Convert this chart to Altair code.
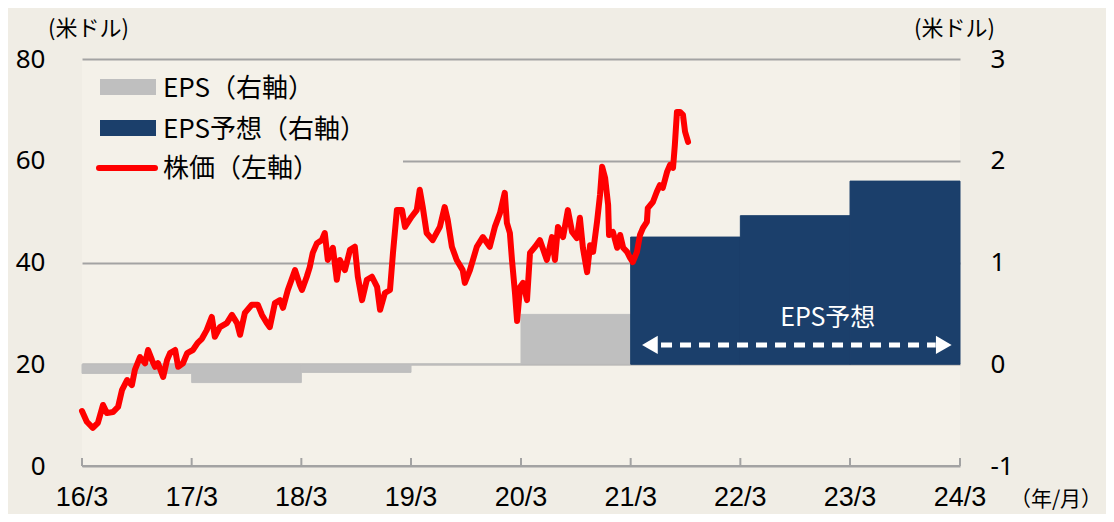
import altair as alt
import pandas as pd

# ---------------- data ----------------
price_dates = [
    "2016-03-31", "2016-04-16", "2016-05-06", "2016-05-23", "2016-06-09", "2016-06-22",
    "2016-07-12", "2016-07-29", "2016-08-11", "2016-08-28", "2016-09-13", "2016-09-23",
    "2016-10-10", "2016-10-27", "2016-11-06", "2016-11-19", "2016-11-29", "2016-12-09",
    "2016-12-26", "2017-01-08", "2017-01-18", "2017-02-04", "2017-02-14", "2017-03-02",
    "2017-03-16", "2017-04-04", "2017-04-20", "2017-05-04", "2017-05-20", "2017-06-06",
    "2017-06-16", "2017-07-03", "2017-07-26", "2017-08-12", "2017-08-29", "2017-09-08",
    "2017-09-24", "2017-10-17", "2017-11-06", "2017-11-20", "2017-12-06", "2017-12-16",
    "2018-01-02", "2018-01-19", "2018-01-29", "2018-02-14", "2018-03-10", "2018-03-26",
    "2018-04-02", "2018-04-18", "2018-04-28", "2018-05-08", "2018-05-22", "2018-06-07",
    "2018-06-17", "2018-06-27", "2018-07-14", "2018-07-27", "2018-08-06", "2018-08-23",
    "2018-09-09", "2018-09-25", "2018-10-05", "2018-10-19", "2018-11-04", "2018-11-21",
    "2018-12-08", "2018-12-18", "2019-01-03", "2019-01-20", "2019-01-30", "2019-02-12",
    "2019-03-01", "2019-03-11", "2019-04-02", "2019-04-19", "2019-04-29", "2019-05-09",
    "2019-05-22", "2019-06-11", "2019-07-05", "2019-07-21", "2019-07-31", "2019-08-14",
    "2019-08-30", "2019-09-19", "2019-09-26", "2019-10-13", "2019-11-05", "2019-11-25",
    "2019-12-18", "2020-01-04", "2020-01-21", "2020-02-06", "2020-02-13", "2020-02-23",
    "2020-03-01", "2020-03-11", "2020-03-18", "2020-03-28", "2020-04-07", "2020-04-20",
    "2020-04-30", "2020-05-17", "2020-06-02", "2020-06-25", "2020-07-12", "2020-07-22",
    "2020-08-01", "2020-08-18", "2020-09-03", "2020-09-17", "2020-10-03", "2020-10-13",
    "2020-10-23", "2020-11-06", "2020-11-16", "2020-11-26", "2020-12-09", "2020-12-19",
    "2020-12-26", "2021-01-05", "2021-01-15", "2021-01-18", "2021-01-31", "2021-02-14",
    "2021-02-24", "2021-03-06", "2021-03-19", "2021-03-29", "2021-04-07", "2021-04-21",
    "2021-05-01", "2021-05-11", "2021-05-24", "2021-05-27", "2021-06-13", "2021-06-26",
    "2021-07-06", "2021-07-16", "2021-07-30", "2021-08-09", "2021-08-19", "2021-08-25",
    "2021-09-01", "2021-09-11", "2021-09-21", "2021-09-28", "2021-10-08",
]
price_values = [
    10.8, 8.7, 7.5, 8.5, 12.0, 10.4,
    10.6, 11.6, 14.9, 16.9, 15.9, 18.9,
    21.4, 20.2, 22.8, 20.8, 19.5, 20.2,
    17.5, 20.8, 22.2, 22.8, 19.5, 20.2,
    22.2, 22.8, 24.2, 25.0, 26.7, 29.3,
    25.4, 27.3, 28.1, 29.7, 28.1, 25.8,
    30.1, 31.7, 31.7, 29.7, 28.1, 27.3,
    32.0, 32.6, 31.1, 34.6, 38.5, 35.6,
    34.6, 37.2, 39.1, 41.9, 43.8, 44.4,
    45.8, 40.5, 42.9, 36.6, 40.5, 38.5,
    42.5, 43.1, 37.2, 32.6, 36.6, 37.2,
    35.2, 30.7, 34.0, 34.6, 41.9, 50.3,
    50.3, 47.0, 49.0, 50.3, 54.3, 50.9,
    45.8, 44.4, 47.0, 50.9, 48.4, 43.1,
    40.5, 38.5, 36.0, 38.5, 43.1, 45.0,
    43.1, 47.0, 49.7, 53.7, 47.8, 45.8,
    40.5, 34.0, 28.5, 35.2, 36.0, 32.6,
    41.9, 43.1, 44.4, 40.5, 45.0, 40.5,
    47.0, 45.0, 50.3, 46.0, 44.8, 48.8,
    42.9, 38.1, 43.4, 42.1, 48.0, 53.3,
    58.8, 56.6, 51.3, 45.4, 46.0, 42.9,
    45.4, 42.9, 42.1, 40.9, 40.1, 42.1,
    45.4, 46.8, 48.0, 50.7, 51.9, 53.9,
    55.2, 54.7, 57.8, 59.2, 58.6, 63.1,
    69.6, 69.6, 69.0, 65.7, 63.7,
]

fy_ends = ["2016-03-31", "2017-03-31", "2018-03-31", "2019-03-31", "2020-03-31",
           "2021-03-31", "2022-03-31", "2023-03-31", "2024-03-31"]
tick_labels = ["16/3", "17/3", "18/3", "19/3", "20/3", "21/3", "22/3", "23/3", "24/3"]
eps_actual = [-0.09, -0.18, -0.08, 0.0, 0.49]
eps_forecast = [1.25, 1.46, 1.80]

left_ticks = [0, 20, 40, 60, 80]
right_ticks = [-1, 0, 1, 2, 3]
legend_labels = ["EPS（右軸）", "EPS予想（右軸）", "株価（左軸）"]

arrow_span = ["2021-07-10", "2024-01-10"]
arrow_heads = ["2021-06-03", "2024-02-06"]
arrow_level = 0.19
forecast_label = "EPS予想"
forecast_label_at = ("2023-01-16", 0.45)

# ---------------- style ----------------
BG = "#f0ede5"
PLOT = "#f4f1e9"
GRID = "#a3a3a3"
GRAY = "#bfbfbf"
NAVY = "#1b3f6b"
RED = "#ff0000"
JP = "Noto Sans CJK JP"
NUM = "Noto Sans"
NARROW = "Liberation Sans"
W, H = 878, 407


def utc(s):
    y, m, d = map(int, s.split("-"))
    return alt.DateTime(year=y, month=m, date=d, utc=True)


# ---------------- tables ----------------
price_df = pd.DataFrame({"date": price_dates, "price": price_values})
eps_df = pd.DataFrame({"start": fy_ends[:5], "end": fy_ends[1:6], "eps": eps_actual, "base": 0.0})
fc_df = pd.DataFrame({"start": fy_ends[5:8], "end": fy_ends[6:9], "eps": eps_forecast, "base": 0.0})
tick_df = pd.DataFrame({"date": fy_ends, "label": tick_labels})
arrow_df = pd.DataFrame({"start": [arrow_span[0]], "end": [arrow_span[1]], "eps": [arrow_level]})
head_df = pd.DataFrame({"date": arrow_heads, "eps": [arrow_level] * 2,
                        "shape": ["triangle-left", "triangle-right"]})
label_df = pd.DataFrame({"date": [forecast_label_at[0]], "eps": [forecast_label_at[1]],
                         "text": [forecast_label]})
one = pd.DataFrame({"k": [0]})

x_scale = alt.Scale(type="utc", domain=[utc(fy_ends[0]), utc(fy_ends[-1])])
XN = dict(scale=x_scale, axis=None)

eps_scale = alt.Scale(domain=[-1, 3], nice=False, zero=False)
right_axis = alt.Axis(
    orient="right", values=right_ticks, grid=False, domain=False, ticks=False,
    labelExpr="datum.value < 0 ? '-' + abs(datum.value) : '' + datum.value",
    labelFont=NUM, labelFontSize=26, labelColor="#000", labelPadding=30, labelAlign="left",
    title="(米ドル)", titleFont=JP, titleFontSize=22, titleFontWeight="normal", titleColor="#000",
    titleAngle=0, titleX=-6, titleY=-31, titleAlign="center", titleBaseline="middle",
)
price_scale = alt.Scale(domain=[0, 80], nice=False)
left_axis = alt.Axis(
    orient="left", values=left_ticks, grid=True, gridColor=GRID, gridWidth=2,
    domain=False, ticks=False,
    labelFont=NUM, labelFontSize=26, labelColor="#000", labelPadding=37,
    title="(米ドル)", titleFont=JP, titleFontSize=22, titleFontWeight="normal", titleColor="#000",
    titleAngle=0, titleX=6, titleY=-31, titleAlign="center", titleBaseline="middle",
)


def ey(field="eps"):
    return alt.Y(f"{field}:Q", scale=eps_scale, axis=right_axis)


# ---------------- EPS group (right axis) ----------------
gray_bars = alt.Chart(eps_df).mark_rect(color=GRAY, stroke=GRAY, strokeWidth=1).encode(
    x=alt.X("start:T", **XN), x2="end:T", y=ey(), y2="base:Q",
)
navy_bars = alt.Chart(fc_df).mark_rect(color=NAVY, stroke=NAVY, strokeWidth=1).encode(
    x=alt.X("start:T", **XN), x2="end:T", y=ey(), y2="base:Q",
)
arrow_line = alt.Chart(arrow_df).mark_rule(color="white", strokeWidth=5, strokeDash=[11, 8]).encode(
    x=alt.X("start:T", **XN), x2="end:T", y=ey(),
)
arrow_tips = alt.Chart(head_df).mark_point(filled=True, color="white", opacity=1, size=330).encode(
    x=alt.X("date:T", **XN), y=ey(),
    shape=alt.Shape("shape:N", scale=None),
)
arrow_text = alt.Chart(label_df).mark_text(font=JP, fontSize=25, color="white",
                                            align="center", baseline="middle").encode(
    x=alt.X("date:T", **XN), y=ey(), text="text:N",
)
eps_group = alt.layer(gray_bars, navy_bars, arrow_line, arrow_tips, arrow_text)

# ---------------- price group (left axis) ----------------
price_line = alt.Chart(price_df).mark_line(color=RED, strokeWidth=6, strokeJoin="round",
                                           strokeCap="round").encode(
    x=alt.X("date:T", **XN),
    y=alt.Y("price:Q", scale=price_scale, axis=left_axis),
)
# x axis: domain line, inward ticks, labels and unit
x_domain = alt.Chart(one).mark_rule(color=GRID, strokeWidth=2).encode(
    x=alt.value(0), x2=alt.value(W), y=alt.value(H),
)
x_ticks = alt.Chart(tick_df).mark_rule(color=GRID, strokeWidth=2).encode(
    x=alt.X("date:T", **XN), y=alt.value(H - 8), y2=alt.value(H),
)
x_labels = alt.Chart(tick_df).mark_text(font=NARROW, fontSize=27, color="#000",
                                         align="center", baseline="middle").encode(
    x=alt.X("date:T", **XN), y=alt.value(H + 32), text="label:N",
)
x_unit = alt.Chart(one).mark_text(font=JP, fontSize=21, color="#000",
                                   align="center", baseline="middle").encode(
    x=alt.value(974), y=alt.value(H + 34), text=alt.value("（年/月）"),
)
legend_box = alt.Chart(one).mark_rect(color=PLOT).encode(
    x=alt.value(0), x2=alt.value(321), y=alt.value(2), y2=alt.value(138),
)
sw_gray = alt.Chart(one).mark_rect(color=GRAY).encode(
    x=alt.value(18), x2=alt.value(74), y=alt.value(20), y2=alt.value(36),
)
sw_navy = alt.Chart(one).mark_rect(color=NAVY).encode(
    x=alt.value(18), x2=alt.value(74), y=alt.value(61), y2=alt.value(77),
)
sw_red = alt.Chart(one).mark_rule(color=RED, strokeWidth=6, strokeCap="round").encode(
    x=alt.value(17), x2=alt.value(73), y=alt.value(109),
)
leg_texts = [
    alt.Chart(one).mark_text(font=JP, fontSize=26, color="#000", align="left", baseline="middle").encode(
        x=alt.value(81), y=alt.value(yy), text=alt.value(lbl))
    for lbl, yy in zip(legend_labels, [30, 71, 110])
]
price_group = alt.layer(price_line, x_domain, x_ticks, x_labels, x_unit,
                        legend_box, sw_gray, sw_navy, sw_red, *leg_texts)

chart = (
    alt.layer(eps_group, price_group)
    .resolve_scale(y="independent")
    .properties(
        width=W, height=H,
        autosize=alt.AutoSizeParams(type="none"),
        padding={"left": 74, "top": 51, "right": 146, "bottom": 48},
        background=BG,
    )
    .configure_view(fill=PLOT, stroke=None, clip=False)
)

chart.save("out.html", embed_options={"renderer": "svg", "actions": False})
